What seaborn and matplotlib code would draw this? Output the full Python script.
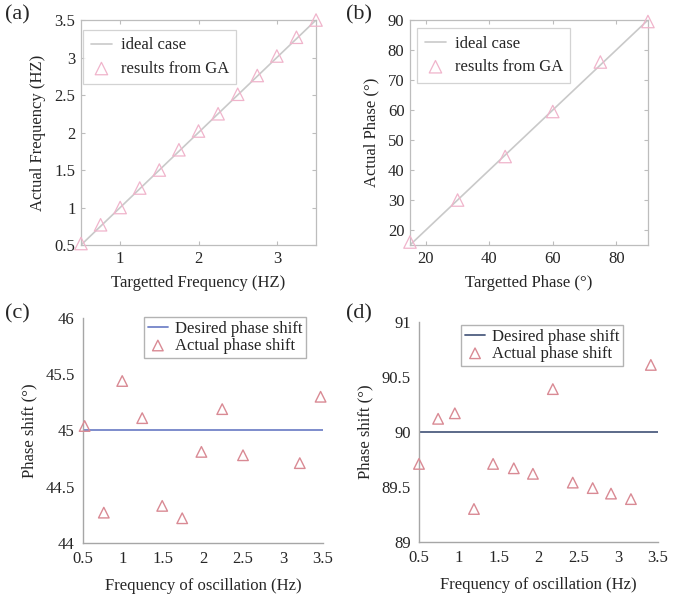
import matplotlib
matplotlib.use("Agg")
import matplotlib.pyplot as plt
from matplotlib.ticker import FuncFormatter
import seaborn as sns
import numpy as np

# (a) frequency tracking
FREQ_TARGET = [0.5, 0.75, 1.0, 1.25, 1.5, 1.75, 2.0, 2.25, 2.5, 2.75, 3.0, 3.25, 3.5]
FREQ_GA = [0.52, 0.77, 1.0, 1.26, 1.5, 1.77, 2.02, 2.25, 2.51, 2.76, 3.02, 3.27, 3.5]

# (b) phase tracking
PHASE_TARGET = [15, 30, 45, 60, 75, 90]
PHASE_GA = [16, 30, 44.5, 59.5, 76, 89.5]

# (c) phase shift, 45 deg desired
C_FREQ = [0.52, 0.76, 0.99, 1.24, 1.49, 1.74, 1.98, 2.24, 2.5, 3.21, 3.47]
C_SHIFT = [45.04, 44.27, 45.44, 45.11, 44.33, 44.22, 44.81, 45.19, 44.78, 44.71, 45.30]
C_DESIRED = 45

# (d) phase shift, 90 deg desired
D_FREQ = [0.5, 0.74, 0.95, 1.19, 1.43, 1.69, 1.93, 2.18, 2.43, 2.68, 2.91, 3.16, 3.41]
D_SHIFT = [89.71, 90.12, 90.17, 89.30, 89.71, 89.67, 89.62, 90.39, 89.54, 89.49, 89.44, 89.39, 90.61]
D_DESIRED = 90

sns.set_style("white")
plt.rcParams["font.family"] = ["Liberation Serif", "DejaVu Serif"]

fig = plt.figure(figsize=(6.76, 6.01), dpi=100)

FS = 12
GRAY_LINE = "#c9c9c9"
PINK = "#f0b4cb"
BLUE_C = "#7384c8"
BLUE_D = "#4e5e80"
SALMON = "#d98a94"
num_fmt = FuncFormatter(lambda v, p: "%g" % v)


def matlab_box(ax):
    for s in ax.spines.values():
        s.set_visible(True)
        s.set_color("#bdbdbd")
        s.set_linewidth(0.9)
    ax.tick_params(direction="in", length=3, color="#bdbdbd", top=True, right=True,
                   bottom=True, left=True, labelsize=FS, pad=4)


def excel_axes(ax):
    for side in ["top", "right"]:
        ax.spines[side].set_visible(False)
    for side in ["left", "bottom"]:
        ax.spines[side].set_color("#a6a6a6")
        ax.spines[side].set_linewidth(1.0)
    ax.tick_params(length=0, labelsize=FS, pad=6)


def tracking_panel(rect, target, result, lim, ticks_x, ticks_y, xlabel, ylabel, anchor):
    ax = fig.add_axes(rect)
    sns.lineplot(x=[lim[0], lim[1]], y=[lim[0], lim[1]], color=GRAY_LINE, linewidth=1.2,
                 ax=ax, label="ideal case")
    sns.scatterplot(x=target, y=result, marker="^", s=80, facecolors="none",
                    edgecolors=PINK, linewidths=0.9, ax=ax, label="results from GA",
                    zorder=3, clip_on=False)
    ax.set_xlim(lim)
    ax.set_ylim(lim)
    ax.set_xticks(ticks_x)
    ax.set_yticks(ticks_y)
    ax.xaxis.set_major_formatter(num_fmt)
    ax.yaxis.set_major_formatter(num_fmt)
    ax.set_xlabel(xlabel, fontsize=FS, labelpad=6)
    ax.set_ylabel(ylabel, fontsize=FS, labelpad=6)
    matlab_box(ax)
    leg = ax.legend(loc="upper left", bbox_to_anchor=anchor, fontsize=FS, frameon=True,
                    fancybox=False, edgecolor="#c8c8c8", borderpad=0.45, handlelength=1.3,
                    labelspacing=0.45, handletextpad=0.5, borderaxespad=0)
    leg.get_frame().set_linewidth(0.9)
    return ax


def shift_panel(rect, freq, shift, desired, ylim, line_color, xlabel, ylabel, anchor):
    ax = fig.add_axes(rect)
    sns.lineplot(x=[0.5, 3.5], y=[desired, desired], color=line_color, linewidth=1.3,
                 ax=ax, label="Desired phase shift")
    sns.scatterplot(x=freq, y=shift, marker="^", s=58, facecolors="none",
                    edgecolors=SALMON, linewidths=1.0, ax=ax, label="Actual phase shift",
                    zorder=3, clip_on=False)
    ax.set_xlim(0.5, 3.5)
    ax.set_ylim(ylim)
    ax.set_xticks(np.arange(0.5, 3.51, 0.5))
    ax.set_yticks(np.arange(ylim[0], ylim[1] + 0.01, 0.5))
    ax.xaxis.set_major_formatter(num_fmt)
    ax.yaxis.set_major_formatter(num_fmt)
    ax.set_xlabel(xlabel, fontsize=FS, labelpad=8)
    ax.set_ylabel(ylabel, fontsize=FS, labelpad=6)
    excel_axes(ax)
    leg = ax.legend(loc="upper right", bbox_to_anchor=anchor, fontsize=FS, frameon=True,
                    fancybox=False, edgecolor="#a0a0a0", borderpad=0.25, handlelength=1.2,
                    labelspacing=0.05, handletextpad=0.4, borderaxespad=0)
    leg.get_frame().set_linewidth(1.0)
    return ax


tracking_panel([0.1198, 0.5923, 0.3477, 0.3744], FREQ_TARGET, FREQ_GA, (0.5, 3.5),
               [1, 2, 3], np.arange(0.5, 3.51, 0.5),
               "Targetted Frequency (HZ)", "Actual Frequency (HZ)", (0.009, 0.956))
tracking_panel([0.6065, 0.5923, 0.3520, 0.3744], PHASE_TARGET, PHASE_GA, (15, 90),
               [20, 40, 60, 80], [20, 30, 40, 50, 60, 70, 80, 90],
               "Targetted Phase (°)", "Actual Phase (°)", (0.03, 0.964))
shift_panel([0.1228, 0.0965, 0.3550, 0.3744], C_FREQ, C_SHIFT, C_DESIRED, (44, 46), BLUE_C,
            "Frequency of oscillation (Hz)", "Phase shift (°)", (0.93, 1.005))
shift_panel([0.6198, 0.0982, 0.3536, 0.3660], D_FREQ, D_SHIFT, D_DESIRED, (89, 91), BLUE_D,
            "Frequency of oscillation (Hz)", "Phase shift (°)", (0.855, 0.988))

for label, x, y in [("(a)", 0.008, 0.975), ("(b)", 0.512, 0.975),
                    ("(c)", 0.008, 0.478), ("(d)", 0.512, 0.478)]:
    fig.text(x, y, label, fontsize=16, ha="left", va="center")

fig.savefig("out.png", dpi=100)
